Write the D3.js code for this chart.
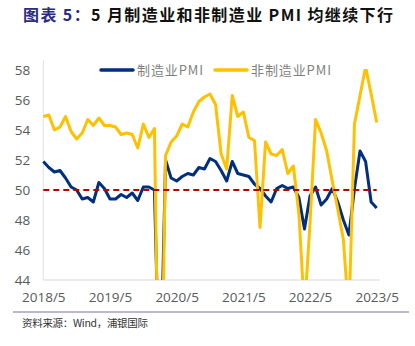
<!DOCTYPE html>
<html>
<head>
<meta charset="utf-8">
<script src="https://cdn.jsdelivr.net/npm/d3@7"></script>
<style>
  html, body { margin: 0; padding: 0; background: #fff; }
  svg { display: block; font-family: "Noto Sans CJK SC", "Noto Sans", sans-serif; }
</style>
</head>
<body>
<svg id="chart" width="415" height="346"></svg>
<script>
// Monthly PMI readings, 2018/5 – 2023/5
const manufacturingPMI = [
  51.9, 51.5, 51.2, 51.3, 50.8, 50.2, 50.0, 49.4,
  49.5, 49.2, 50.5, 50.1, 49.4, 49.4, 49.7, 49.5, 49.8, 49.3, 50.2, 50.2,
  50.0, 35.7, 52.0, 50.8, 50.6, 50.9, 51.1, 51.0, 51.5, 51.4, 52.1, 51.9,
  51.3, 50.6, 51.9, 51.1, 51.0, 50.9, 50.4, 50.1, 49.6, 49.2, 50.1, 50.3,
  50.1, 50.2, 49.5, 47.4, 49.6, 50.2, 49.0, 49.4, 50.1, 49.2, 48.0, 47.0,
  50.1, 52.6, 51.9, 49.2, 48.8
];
const nonManufacturingPMI = [
  54.9, 55.0, 54.0, 54.2, 54.9, 53.9, 53.4, 53.8,
  54.7, 54.3, 54.8, 54.3, 54.3, 54.2, 53.7, 53.8, 53.7, 52.8, 54.4, 53.5,
  54.1, 29.6, 52.3, 53.2, 53.6, 54.4, 54.2, 55.2, 55.9, 56.2, 56.4, 55.7,
  52.4, 51.4, 56.3, 54.9, 55.2, 53.5, 53.3, 47.5, 53.2, 52.4, 52.3, 52.7,
  51.1, 51.6, 48.4, 41.9, 47.8, 54.7, 53.8, 52.6, 50.6, 48.7, 46.7, 41.6,
  54.4, 56.3, 58.2, 56.4, 54.5
];
const seriesNames = ["制造业PMI", "非制造业PMI"];
const xTickLabels = ["2018/5", "2019/5", "2020/5", "2021/5", "2022/5", "2023/5"];
const yTicks = [44, 46, 48, 50, 52, 54, 56, 58];
const threshold = 50;

// month category labels: 2018/5 … 2023/5
const months = manufacturingPMI.map((_, i) => {
  const m = 4 + i;
  return `${2018 + Math.floor(m / 12)}/${(m % 12) + 1}`;
});

const colors = { mfg: "#002f80", non: "#ffc000", ref: "#c00000" };

const svg = d3.select("#chart");
const plot = { left: 43.3, right: 376.7, top: 70, bottom: 280 };

const x = d3.scalePoint().domain(months).range([plot.left, plot.right]);
const y = d3.scaleLinear().domain([44, 58]).range([plot.bottom, plot.top]);

// title
const title = svg.append("text")
  .attr("x", 23).attr("y", 21)
  .attr("font-size", 16).attr("font-weight", "bold")
  .attr("textLength", 370).attr("lengthAdjust", "spacing");
title.append("tspan").attr("fill", "#2b2b86").text("图表 5：");
title.append("tspan").attr("fill", "#111").text("5 月制造业和非制造业 PMI 均继续下行");

// clip for the plot area
svg.append("defs").append("clipPath").attr("id", "plotClip")
  .append("rect")
  .attr("x", plot.left - 2).attr("y", plot.top - 1)
  .attr("width", plot.right - plot.left + 6)
  .attr("height", plot.bottom - plot.top + 1);

// axis frame: left and bottom light gray lines
svg.append("line")
  .attr("x1", plot.left).attr("x2", plot.left)
  .attr("y1", plot.top - 10).attr("y2", plot.bottom)
  .attr("stroke", "#e2e2e2").attr("stroke-width", 1);
svg.append("line")
  .attr("x1", plot.left).attr("x2", 380)
  .attr("y1", plot.bottom).attr("y2", plot.bottom)
  .attr("stroke", "#d9d9d9").attr("stroke-width", 1);

// y axis labels
const yAxis = d3.axisLeft(y).tickValues(yTicks).tickSize(0).tickPadding(13);
const gy = svg.append("g").attr("transform", `translate(${plot.left},0)`).call(yAxis);
gy.select(".domain").remove();
gy.selectAll("text").attr("font-size", 13.5).attr("fill", "#595959")
  .attr("font-family", "Open Sans, Noto Sans, sans-serif");

// x axis labels
const xAxis = d3.axisBottom(x).tickValues(xTickLabels).tickSize(0).tickPadding(12);
const gx = svg.append("g").attr("transform", `translate(0,${plot.bottom})`).call(xAxis);
gx.select(".domain").remove();
gx.selectAll("text").attr("font-size", 13.5).attr("fill", "#595959")
  .attr("font-family", "Open Sans, Noto Sans, sans-serif");

const line = d3.line().x((d, i) => x(months[i])).y(d => y(d));
const lines = svg.append("g").attr("clip-path", "url(#plotClip)");

lines.append("path").datum(manufacturingPMI)
  .attr("d", line).attr("fill", "none")
  .attr("stroke", colors.mfg).attr("stroke-width", 3)
  .attr("stroke-linejoin", "round");

lines.append("path").datum(nonManufacturingPMI)
  .attr("d", line).attr("fill", "none")
  .attr("stroke", colors.non).attr("stroke-width", 3)
  .attr("stroke-linejoin", "round");

// 50 threshold
svg.append("line")
  .attr("x1", plot.left).attr("x2", plot.right)
  .attr("y1", y(threshold)).attr("y2", y(threshold))
  .attr("stroke", colors.ref).attr("stroke-width", 2)
  .attr("stroke-dasharray", "6,4");

// legend
const legend = [
  { name: seriesNames[0], color: colors.mfg, x: 101, w: 66 },
  { name: seriesNames[1], color: colors.non, x: 215, w: 80 }
];
legend.forEach(l => {
  svg.append("line")
    .attr("x1", l.x).attr("x2", l.x + 32)
    .attr("y1", 70).attr("y2", 70)
    .attr("stroke", l.color).attr("stroke-width", 3.5)
    .attr("stroke-linecap", "round");
  svg.append("text")
    .attr("x", l.x + 36).attr("y", 75)
    .attr("font-size", 13).attr("fill", "#7f7f7f")
    .attr("textLength", l.w).attr("lengthAdjust", "spacing")
    .text(l.name);
});

// bottom rule and source note
svg.append("line")
  .attr("x1", 13).attr("x2", 409)
  .attr("y1", 312).attr("y2", 312)
  .attr("stroke", "#7a6fa6").attr("stroke-width", 1);
svg.append("text")
  .attr("x", 22).attr("y", 327)
  .attr("font-size", 10.5).attr("fill", "#333")
  .attr("textLength", 126).attr("lengthAdjust", "spacing")
  .text("资料来源：Wind，浦银国际");
</script>
</body>
</html>
